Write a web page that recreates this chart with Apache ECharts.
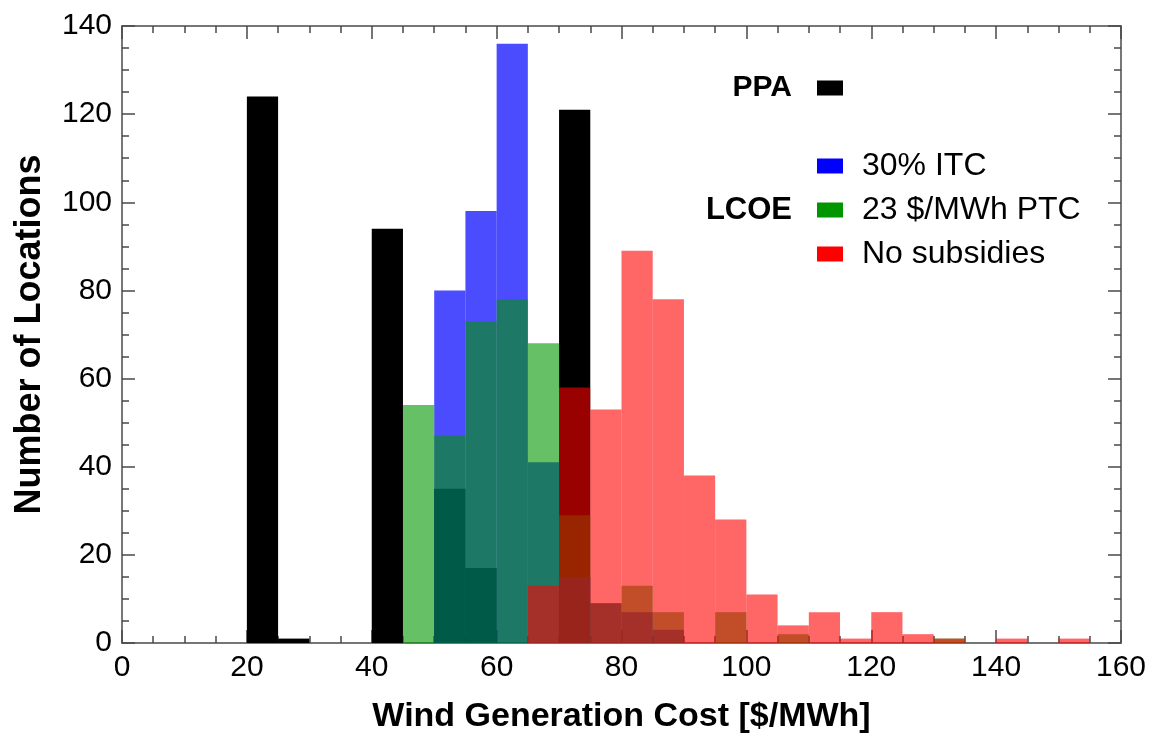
<!DOCTYPE html>
<html>
<head>
<meta charset="utf-8">
<script src="https://cdn.jsdelivr.net/npm/echarts@6/dist/echarts.min.js"></script>
<style>
  html, body { margin: 0; padding: 0; background: #fff; }
  #chart { width: 1157px; height: 734px; }
</style>
</head>
<body>
<div id="chart"></div>
<script>
// Histogram bin edges, $/MWh (5 $/MWh wide bins from 0 to 160)
const binEdges = [0, 5, 10, 15, 20, 25, 30, 35, 40, 45, 50, 55, 60, 65, 70, 75, 80,
  85, 90, 95, 100, 105, 110, 115, 120, 125, 130, 135, 140, 145, 150, 155, 160];

// Number of locations in each bin
const ppaCounts = [0, 0, 0, 0, 124, 1, 0, 0, 94, 0, 35, 17, 0, 0, 121, 0,
  0, 0, 0, 0, 0, 0, 0, 0, 0, 0, 0, 0, 0, 0, 0, 0];
const itcCounts = [0, 0, 0, 0, 0, 0, 0, 0, 0, 0, 80, 98, 136, 41, 15, 9,
  7, 3, 0, 0, 0, 0, 0, 0, 0, 0, 0, 0, 0, 0, 0, 0];
const ptcCounts = [0, 0, 0, 0, 0, 0, 0, 0, 0, 54, 47, 73, 78, 68, 29, 9,
  13, 7, 0, 7, 0, 2, 0, 0, 0, 0, 1, 0, 0, 0, 0, 0];
const noSubsidyCounts = [0, 0, 0, 0, 0, 0, 0, 0, 0, 0, 0, 0, 0, 13, 58, 53,
  89, 78, 38, 28, 11, 4, 7, 1, 7, 2, 1, 0, 1, 0, 1, 0];

// Axis ticks
const xTicks = { min: 0, max: 160, step: 20 };
const yTicks = { min: 0, max: 140, step: 20 };

const seriesNames = ['PPA', '30% ITC', '23 $/MWh PTC', 'No subsidies'];

const FONT = "'Liberation Sans', Arial, Helvetica, sans-serif";
const AXIS_COLOR = '#4a4a4a';

function binData(counts) {
  return counts.map((c, i) => [binEdges[i], binEdges[i + 1], c]);
}

function histogramSeries(name, counts, fill) {
  return {
    type: 'custom',
    name: name,
    xAxisIndex: 0,
    yAxisIndex: 0,
    clip: true,
    itemStyle: { color: fill },
    encode: { x: [0, 1], y: 2 },
    data: binData(counts),
    renderItem: function (params, api) {
      const v = api.value(2);
      if (!v) return null;
      const topLeft = api.coord([api.value(0), v]);
      const bottomRight = api.coord([api.value(1), 0]);
      return {
        type: 'rect',
        shape: {
          x: topLeft[0],
          y: topLeft[1],
          width: bottomRight[0] - topLeft[0],
          height: bottomRight[1] - topLeft[1]
        },
        style: { fill: fill }
      };
    }
  };
}

const axisLine = { show: true, onZero: false, lineStyle: { color: AXIS_COLOR, width: 1.5 } };
const labelStyle = { fontSize: 30, color: '#000', fontFamily: FONT };

function valueAxis(t, position, extra) {
  return Object.assign({
    type: 'value',
    position: position,
    min: t.min,
    max: t.max,
    interval: t.step,
    axisLine: axisLine,
    axisTick: { show: true, inside: true, length: 13, lineStyle: { color: AXIS_COLOR, width: 1.5 } },
    minorTick: { show: true, splitNumber: 4, length: 7, lineStyle: { color: AXIS_COLOR, width: 1.5 } },
    splitLine: { show: false },
    minorSplitLine: { show: false }
  }, extra);
}

const chart = echarts.init(document.getElementById('chart'), null, { renderer: 'canvas' });

chart.setOption({
  backgroundColor: '#fff',
  animation: false,
  textStyle: { fontFamily: FONT },
  grid: { left: 122, right: 36, top: 26, bottom: 91, containLabel: false, outerBoundsMode: 'none' },
  xAxis: [
    valueAxis(xTicks, 'bottom', {
      axisLabel: Object.assign({ margin: 10 }, labelStyle),
      name: 'Wind Generation Cost [$/MWh]',
      nameLocation: 'middle',
      nameGap: 57,
      nameTextStyle: { fontSize: 34, fontWeight: 'bold', color: '#000', fontFamily: FONT }
    }),
    valueAxis(xTicks, 'top', { axisLabel: { show: false } })
  ],
  yAxis: [
    valueAxis(yTicks, 'left', {
      axisLabel: Object.assign({ margin: 10 }, labelStyle),
      name: 'Number of Locations',
      nameLocation: 'middle',
      nameRotate: 90,
      nameGap: 74,
      nameTextStyle: { fontSize: 36, fontWeight: 'bold', color: '#000', fontFamily: FONT }
    }),
    valueAxis(yTicks, 'right', { axisLabel: { show: false } })
  ],
  legend: [
    {
      data: [{ name: seriesNames[0], itemStyle: { color: '#000000', opacity: 1 } }],
      right: 314,
      top: 72,
      padding: 0,
      align: 'right',
      icon: 'rect',
      itemWidth: 26,
      itemHeight: 15,
      selectedMode: false,
      textStyle: { fontSize: 30, fontWeight: 'bold', color: '#000', lineHeight: 32, padding: [0, 20, 0, 0], fontFamily: FONT }
    },
    {
      data: [
        { name: seriesNames[1], itemStyle: { color: '#0000ff', opacity: 1 } },
        { name: seriesNames[2], itemStyle: { color: '#009600', opacity: 1 } },
        { name: seriesNames[3], itemStyle: { color: '#ff0000', opacity: 1 } }
      ],
      orient: 'vertical',
      left: 817,
      top: 150,
      padding: 0,
      icon: 'rect',
      itemWidth: 26,
      itemHeight: 15,
      itemGap: 12,
      selectedMode: false,
      textStyle: { fontSize: 32, color: '#000', lineHeight: 32, padding: [0, 0, 0, 14], fontFamily: FONT }
    }
  ],
  graphic: [
    {
      type: 'text',
      x: 792,
      y: 210,
      style: {
        text: 'LCOE',
        fill: '#000',
        fontSize: 31,
        fontWeight: 'bold',
        fontFamily: FONT,
        align: 'right',
        verticalAlign: 'middle'
      }
    }
  ],
  series: [
    histogramSeries(seriesNames[0], ppaCounts, '#000000'),
    histogramSeries(seriesNames[1], itcCounts, 'rgba(0, 0, 255, 0.7)'),
    histogramSeries(seriesNames[2], ptcCounts, 'rgba(0, 150, 0, 0.6)'),
    histogramSeries(seriesNames[3], noSubsidyCounts, 'rgba(255, 0, 0, 0.6)')
  ]
});
</script>
</body>
</html>
